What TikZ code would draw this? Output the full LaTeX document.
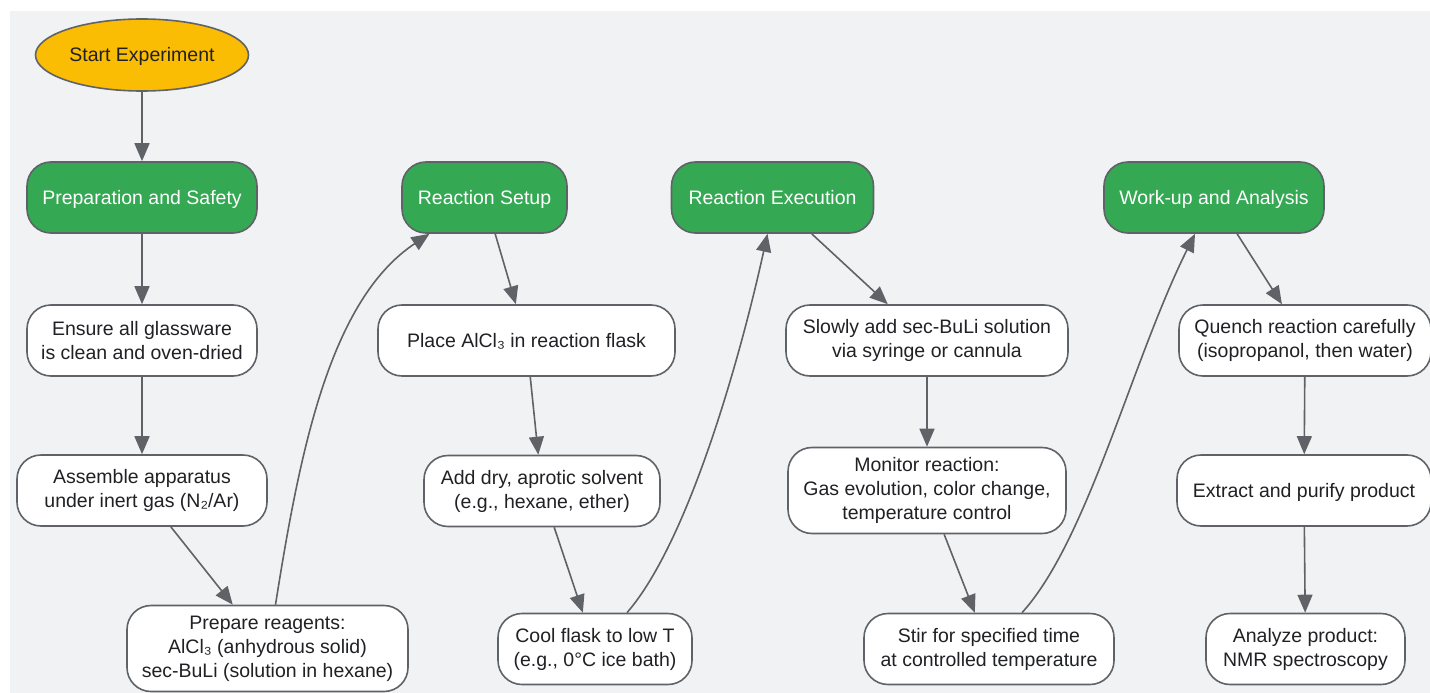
\documentclass[tikz,border=0pt]{standalone}
\usepackage{fontspec}
\setmainfont{Liberation Sans}
\usetikzlibrary{shapes.geometric,arrows.meta}
\definecolor{bg}{HTML}{F1F2F4}
\definecolor{edgec}{HTML}{5F6368}
\definecolor{yel}{HTML}{FBBC04}
\definecolor{grn}{HTML}{34A853}
\definecolor{txt}{HTML}{202124}
\begin{document}
\begin{tikzpicture}[x=1pt,y=-1pt,
 base/.style={draw=edgec, line width=1.6pt, align=center, font=\fontsize{19.5}{24}\selectfont, text=txt, inner sep=0pt},
 oneline/.style={text height=14pt, text depth=0pt},
 phase/.style={base, oneline, rounded corners=24pt, fill=grn, text=white, minimum height=71pt},
 stepbox/.style={base, rounded corners=24pt, fill=white, minimum height=71pt},
 conn/.style={draw=edgec, line width=1.6pt, -{Triangle[length=18pt,width=15pt]}},
]
\useasboundingbox (0,0) rectangle (1430,693);
\fill[bg] (10,11) rectangle (1430,693);

\node[base, oneline, ellipse, fill=yel, minimum width=213pt, minimum height=72pt] (start) at (142,55) {Start Experiment};

\node[phase, minimum width=230pt] (prep) at (142,197.5) {Preparation and Safety};
\node[phase, minimum width=165pt] (setup) at (484.5,197.5) {Reaction Setup};
\node[phase, minimum width=202pt] (exec) at (772.5,197.5) {Reaction Execution};
\node[phase, minimum width=220pt] (workup) at (1214,197.5) {Work-up and Analysis};

\node[stepbox, minimum width=230pt] (ensure) at (142,340.5) {Ensure all glassware\\is clean and oven-dried};
\node[stepbox, minimum width=250pt] (assemble) at (142,490.5) {Assemble apparatus\\under inert gas (N₂/Ar)};
\node[stepbox, minimum width=281pt, minimum height=86pt] (reag) at (267.5,648.5) {Prepare reagents:\\AlCl₃ (anhydrous solid)\\sec-BuLi (solution in hexane)};

\node[stepbox, oneline, minimum width=297pt] (place) at (526.5,340.5) {Place AlCl₃ in reaction flask};
\node[stepbox, minimum width=236pt] (adddry) at (542,491) {Add dry, aprotic solvent\\(e.g., hexane, ether)};
\node[stepbox, minimum width=194pt] (cool) at (595,649) {Cool flask to low T\\(e.g., 0°C ice bath)};

\node[stepbox, minimum width=282pt] (slowly) at (927,340.5) {Slowly add sec-BuLi solution\\via syringe or cannula};
\node[stepbox, minimum width=278pt, minimum height=86pt] (monitor) at (927,490.5) {Monitor reaction:\\Gas evolution, color change,\\temperature control};
\node[stepbox, minimum width=250pt] (stir) at (989,649) {Stir for specified time\\at controlled temperature};

\node[stepbox, minimum width=252pt] (quench) at (1305,340.5) {Quench reaction carefully\\(isopropanol, then water)};
\node[stepbox, oneline, minimum width=254pt] (extract) at (1304,490.5) {Extract and purify product};
\node[stepbox, minimum width=199pt] (analyze) at (1305.5,649) {Analyze product:\\NMR spectroscopy};

\draw[conn] (start) -- (prep);
\draw[conn] (prep) -- (ensure);
\draw[conn] (ensure) -- (assemble);
\draw[conn] (assemble) -- (reag);
\draw[conn] ([xshift=8pt]reag.north) .. controls (300,450) and (330,300) .. ([xshift=-55pt]setup.south);
\draw[conn] (setup) -- (place);
\draw[conn] (place) -- (adddry);
\draw[conn] (adddry) -- (cool);
\draw[conn] ([xshift=32pt]cool.north) .. controls (690,540) and (742,350) .. ([xshift=-5pt]exec.south);
\draw[conn] (exec) -- (slowly);
\draw[conn] (slowly) -- (monitor);
\draw[conn] (monitor) -- (stir);
\draw[conn] ([xshift=33pt]stir.north) .. controls (1088,540) and (1132,360) .. ([xshift=-19pt]workup.south);
\draw[conn] (workup) -- (quench);
\draw[conn] (quench) -- (extract);
\draw[conn] (extract) -- (analyze);
\end{tikzpicture}
\end{document}
